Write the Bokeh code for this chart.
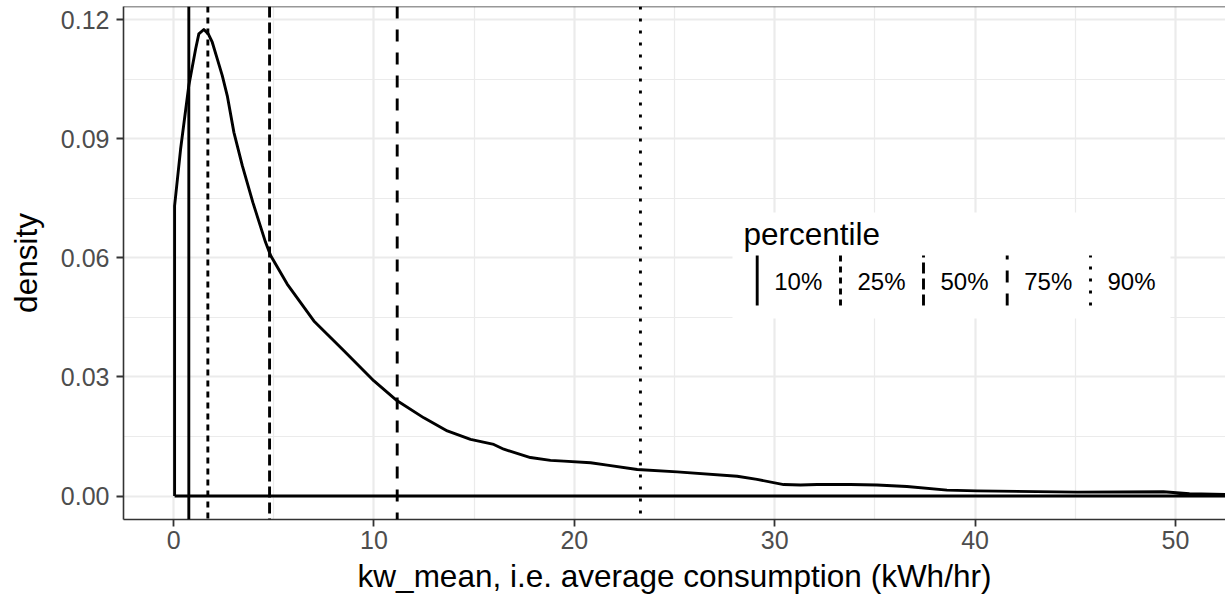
from bokeh.plotting import figure
from bokeh.models import Range1d, FixedTicker, PrintfTickFormatter, Span
from bokeh.core.properties import value
from bokeh.embed import file_html
from bokeh.resources import INLINE

# Kernel density of kw_mean (outline of the density estimate)
density_x = [0.05, 0.35, 0.76, 1.10, 1.26, 1.51, 1.73, 1.93, 2.18, 2.43, 2.68,
             3.01, 3.43, 3.96, 4.59, 4.85, 5.67, 7.0, 8.5, 10.0, 11.16, 12.49,
             13.66, 14.82, 15.98, 16.48, 17.81, 18.81, 19.48, 20.81, 21.64,
             23.14, 25.13, 28.13, 29.12, 30.45, 31.29, 32.12, 33.78, 35.1,
             36.6, 38.6, 40.1, 45.1, 49.4, 50.7, 52.5, 53.5]
density_y = [0.0731, 0.0874, 0.1034, 0.1126, 0.1164, 0.1175, 0.1164, 0.1143,
             0.1101, 0.1059, 0.1008, 0.0916, 0.0832, 0.0739, 0.0639, 0.0605,
             0.0534, 0.0441, 0.0366, 0.0290, 0.0240, 0.0197, 0.0164, 0.0143,
             0.0130, 0.0118, 0.0097, 0.0090, 0.0088, 0.0084, 0.0078, 0.0067,
             0.0061, 0.0050, 0.0042, 0.0029, 0.0028, 0.0029, 0.0029, 0.0028,
             0.0024, 0.0015, 0.0013, 0.0010, 0.0011, 0.0006, 0.0004, 0.0004]

# Percentiles of kw_mean
pct_labels = ["10%", "25%", "50%", "75%", "90%"]
pct_values = [0.76, 1.71, 4.79, 11.16, 23.3]
pct_dashes = ["solid", "6 5", "11 5", "12 11", "3 9"]

x_ticks = [0, 10, 20, 30, 40, 50]
x_minor = [5, 15, 25, 35, 45]
y_ticks = [0.0, 0.03, 0.06, 0.09, 0.12]
y_minor = [0.015, 0.045, 0.075, 0.105]

X_START, X_END = -2.5, 52.5
Y_START, Y_END = -0.0059, 0.1233

W, H = 1225, 599
BORDER_L, BORDER_R, BORDER_T, BORDER_B = 123, 0, 6, 80
FRAME_W = W - BORDER_L - BORDER_R
FRAME_H = H - BORDER_T - BORDER_B

FONT = "Liberation Sans"
INK = "#333333"
GRID = "#EBEBEB"
LW = 2.9


def sx(px):
    """Canvas pixel column -> data x."""
    return X_START + (px - BORDER_L) * (X_END - X_START) / FRAME_W


def sy(py):
    """Canvas pixel row -> data y."""
    return Y_END - (py - BORDER_T) * (Y_END - Y_START) / FRAME_H


p = figure(width=W, height=H, output_backend="svg", toolbar_location=None,
           x_range=Range1d(X_START, X_END), y_range=Range1d(Y_START, Y_END),
           min_border_left=BORDER_L, min_border_right=BORDER_R,
           min_border_top=BORDER_T, min_border_bottom=BORDER_B)
p.outline_line_color = None
p.background_fill_color = "white"
p.border_fill_color = "white"

# grid
p.xaxis.ticker = FixedTicker(ticks=x_ticks, minor_ticks=x_minor)
p.yaxis.ticker = FixedTicker(ticks=y_ticks, minor_ticks=y_minor)
for g in (p.xgrid, p.ygrid):
    g.grid_line_color = GRID
    g.grid_line_width = 2.2
    g.minor_grid_line_color = GRID
    g.minor_grid_line_width = 1.2

# axes
p.yaxis.formatter = PrintfTickFormatter(format="%.2f")
p.xaxis.formatter = PrintfTickFormatter(format="%d")
for ax in (p.xaxis, p.yaxis):
    ax.axis_line_color = INK
    ax.axis_line_width = 1.6
    ax.major_tick_line_color = INK
    ax.major_tick_line_width = 1.8
    ax.major_tick_out = 7
    ax.major_tick_in = 0
    ax.minor_tick_out = 0
    ax.minor_tick_in = 0
    ax.major_label_text_font = FONT
    ax.major_label_text_font_size = "25px"
    ax.major_label_text_color = "#4D4D4D"
    ax.axis_label_text_font = FONT
    ax.axis_label_text_font_size = "31.5px"
    ax.axis_label_text_font_style = "normal"
    ax.axis_label_text_color = "black"
p.xaxis.major_label_standoff = 4
p.xaxis.axis_label_standoff = 6
p.yaxis.major_label_standoff = 7
p.yaxis.axis_label_standoff = 14
p.xaxis.axis_label = "kw_mean, i.e. average consumption (kWh/hr)"
p.yaxis.axis_label = "density"

# top panel border
p.add_layout(Span(location=Y_END, dimension="width", line_color=INK, line_width=1.6))

# density outline: up from the baseline, along the curve, back along the baseline
outline_x = [density_x[0]] + density_x + [density_x[-1], density_x[0]]
outline_y = [0.0] + density_y + [0.0, 0.0]
p.line(outline_x, outline_y, line_color="black", line_width=LW, line_join="round")

# percentile markers
for v, d in zip(pct_values, pct_dashes):
    p.add_layout(Span(location=v, dimension="height", line_color="black",
                      line_width=LW, line_dash=d))

# legend
p.quad(left=[sx(732)], right=[sx(1170)], top=[sy(212)], bottom=[sy(318)],
       fill_color="white", line_color=None)
p.text(x=[sx(743)], y=[sy(233)], text=["percentile"], text_font=value(FONT),
       text_font_size="31.5px", text_color="black",
       text_align="left", text_baseline="middle")
key_px = [756.7, 840, 923, 1006.7, 1090]
for kx, lab, d in zip(key_px, pct_labels, pct_dashes):
    p.segment(x0=[sx(kx)], y0=[sy(305)], x1=[sx(kx)], y1=[sy(255)],
              line_color="black", line_width=LW, line_dash=d)
    p.text(x=[sx(kx + 17)], y=[sy(281)], text=[lab], text_font=value(FONT),
           text_font_size="24px", text_color="black",
           text_align="left", text_baseline="middle")

open("out.html", "w").write(file_html(p, INLINE))
